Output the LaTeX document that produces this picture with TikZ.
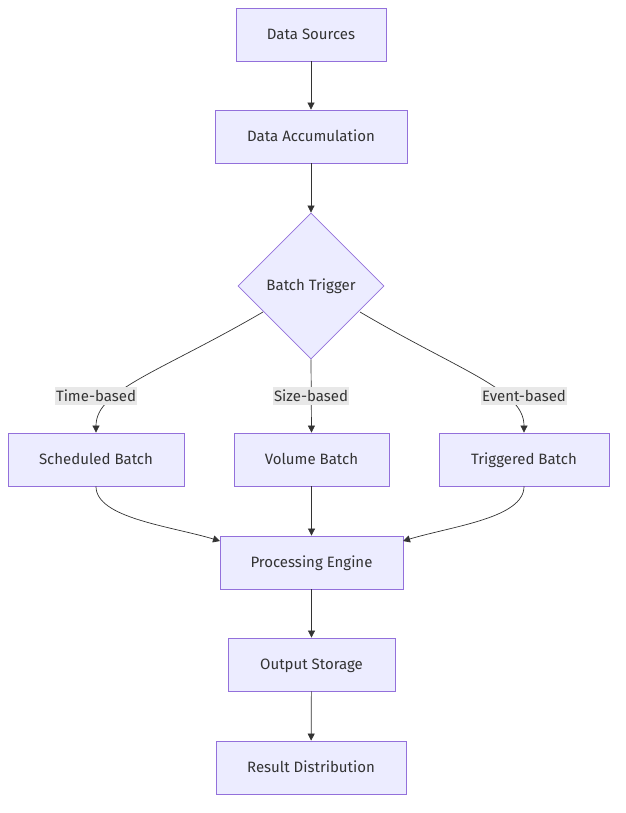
\documentclass[tikz,border=0pt]{standalone}
\usepackage{fontspec}
\setmainfont{Fira Sans}
\usepackage{tikz}
\usetikzlibrary{arrows.meta,shapes.geometric}
\definecolor{boxfill}{HTML}{ECECFF}
\definecolor{boxline}{HTML}{9370DB}
\definecolor{ink}{HTML}{333333}
\definecolor{tagfill}{HTML}{E8E8E8}
\tikzset{
	stage/.style={draw=boxline, fill=boxfill, line width=0.8pt, minimum height=53pt, inner sep=0pt, text height=12pt, text depth=2pt, text=ink, font=\fontsize{15}{18}\selectfont},
	choice/.style={diamond, draw=boxline, fill=boxfill, line width=0.8pt, minimum width=146pt, minimum height=146pt, inner sep=0pt, text=ink, font=\fontsize{15}{18}\selectfont},
	tag/.style={fill=tagfill, inner xsep=1pt, inner ysep=2pt, text height=12pt, text depth=2pt, text=ink, font=\fontsize{15}{18}\selectfont},
	flow/.style={draw=ink, line width=0.7pt, -{Triangle[length=7pt,width=7pt]}}
}
\begin{document}
\begin{tikzpicture}[x=1pt,y=-1pt]
	\useasboundingbox (0,0) rectangle (625,813);

	\node [stage, minimum width=150pt] (src) at (311,34.5) {Data Sources};
	\node [stage, minimum width=192pt] (acc) at (311,136.5) {Data Accumulation};
	\node [choice] (trig) at (311,286) {Batch Trigger};

	\node [stage, minimum width=176pt] (sched) at (96,459.5) {Scheduled Batch};
	\node [stage, minimum width=155pt] (vol) at (311.5,459.5) {Volume Batch};
	\node [stage, minimum width=170pt] (evt) at (524,459.5) {Triggered Batch};

	\node [stage, minimum width=183pt] (proc) at (311.5,562.5) {Processing Engine};
	\node [stage, minimum width=167pt] (out) at (311.5,664.5) {Output Storage};
	\node [stage, minimum width=190pt] (dist) at (311,767.5) {Result Distribution};

	% branches
	\coordinate (tl) at (263,312);
	\coordinate (tr) at (360,312);
	\draw [flow] (src) -- (acc);
	\draw [flow] (acc) -- (trig);
	\draw [flow] (tl) .. controls (160,372) and (96,390) .. (sched.north);
	\draw [flow] (trig.south) -- (vol.north);
	\draw [flow] (tr) .. controls (462,372) and (524,390) .. (evt.north);

	\node [tag] (ltime) at (96,396) {Time-based};
	\node [tag] (lsize) at (311,396) {Size-based};
	\node [tag] (levent) at (524,396) {Event-based};

	% merge
	\coordinate (pl) at (220,541);
	\coordinate (pr) at (403,541);
	\draw [flow] (sched.south) .. controls (96,518) and (170,526) .. (pl);
	\draw [flow] (vol) -- (proc);
	\draw [flow] (evt.south) .. controls (524,518) and (453,526) .. (pr);

	\draw [flow] (proc) -- (out);
	\draw [flow] (out) -- (dist);
\end{tikzpicture}
\end{document}
